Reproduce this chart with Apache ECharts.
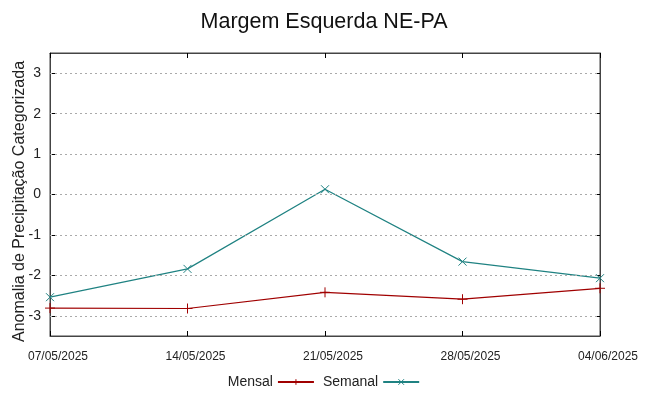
<!DOCTYPE html>
<html>
<head>
<meta charset="utf-8">
<script src="https://cdn.jsdelivr.net/npm/echarts@6/dist/echarts.min.js"></script>
<style>
  html, body { margin: 0; padding: 0; background: #fff; }
  #chart { width: 648px; height: 396px; }
</style>
</head>
<body>
<div id="chart"></div>
<script>
// datas e valores
var datas = ["07/05/2025", "14/05/2025", "21/05/2025", "28/05/2025", "04/06/2025"];
var mensal = [-2.81, -2.82, -2.42, -2.59, -2.32];
var semanal = [-2.54, -1.84, 0.13, -1.66, -2.07];
var yTicks = [-3, -2, -1, 0, 1, 2, 3];

var fonte = "Liberation Sans, Arial, sans-serif";
var corFrame = "#444";

var chart = echarts.init(document.getElementById("chart"));

var option = {
  animation: false,
  title: {
    text: "Margem Esquerda NE-PA",
    left: "center",
    top: 6,
    textStyle: { fontFamily: fonte, fontSize: 21.5, fontWeight: "normal", color: "#111" }
  },
  legend: {
    bottom: 2,
    left: "center",
    align: "right",
    itemWidth: 36,
    itemHeight: 7,
    itemGap: 8,
    itemStyle: { borderWidth: 1 },
    textStyle: { fontFamily: fonte, fontSize: 14, color: "#222" },
    data: ["Mensal", "Semanal"]
  },
  grid: {
    left: 50, right: 48, top: 53, bottom: 60,
    outerBoundsMode: "none",
    containLabel: false,
    show: true, borderColor: corFrame, borderWidth: 1
  },
  xAxis: [{
    type: "category",
    data: datas,
    boundaryGap: false,
    axisLine: { onZero: false, lineStyle: { color: corFrame } },
    axisTick: { inside: true, length: 5, lineStyle: { color: "#000" } },
    axisLabel: { fontFamily: fonte, fontSize: 12, color: "#222", margin: 15, padding: [0, 0, 0, 16] },
    splitLine: { show: false }
  }, {
    type: "category",
    data: datas,
    position: "top",
    boundaryGap: false,
    axisLine: { onZero: false, lineStyle: { color: corFrame } },
    axisTick: { inside: true, length: 5, lineStyle: { color: "#000" } },
    axisLabel: { show: false },
    splitLine: { show: false }
  }],
  yAxis: [{
    type: "value",
    min: -3.5,
    max: 3.5,
    name: "Anomalia de Precipitação Categorizada",
    nameLocation: "middle",
    nameRotate: 90,
    nameGap: 22,
    nameMoveOverlap: false,
    nameTextStyle: { fontFamily: fonte, fontSize: 16, color: "#222", padding: [0, 14, 0, 0] },
    axisLine: { show: true, lineStyle: { color: corFrame } },
    axisTick: { show: true, inside: true, length: 5, customValues: yTicks, lineStyle: { color: "#000" } },
    axisLabel: { fontFamily: fonte, fontSize: 14, color: "#222", margin: 9, customValues: yTicks },
    splitLine: { show: false }
  }, {
    type: "value",
    min: -3.5,
    max: 3.5,
    position: "right",
    axisLine: { show: true, lineStyle: { color: corFrame } },
    axisTick: { show: true, inside: true, length: 5, customValues: yTicks, lineStyle: { color: "#000" } },
    axisLabel: { show: false },
    splitLine: { show: false }
  }],
  series: [{
    name: "Mensal",
    type: "line",
    data: mensal,
    symbol: "path://M0,-5L0,5M-5,0L5,0",
    symbolSize: 10,
    showAllSymbol: true,
    lineStyle: { color: "#a00000", width: 1.2 },
    itemStyle: { color: "#a00000", borderColor: "#a00000", borderWidth: 1 },
    markLine: {
      silent: true,
      symbol: "none",
      label: { show: false },
      lineStyle: { color: "#aaa", type: [2, 3], width: 1 },
      data: yTicks.map(function (v) { return { yAxis: v }; })
    },
    z: 3
  }, {
    name: "Semanal",
    type: "line",
    data: semanal,
    symbol: "path://M-5,-5L5,5M-5,5L5,-5",
    symbolSize: 8,
    showAllSymbol: true,
    lineStyle: { color: "#1f8282", width: 1.2 },
    itemStyle: { color: "#1f8282", borderColor: "#1f8282", borderWidth: 1 },
    z: 3
  }]
};

chart.setOption(option);
</script>
</body>
</html>
